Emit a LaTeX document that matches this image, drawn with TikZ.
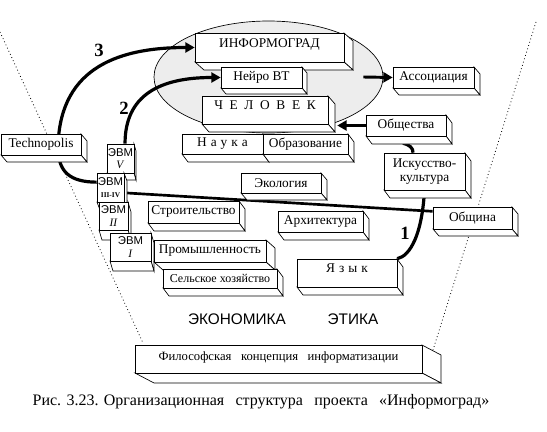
\documentclass[tikz,border=0pt]{standalone}
\usepackage{fontspec}
\setmainfont{Liberation Serif}
\newfontfamily\sansf{Liberation Sans}
\usetikzlibrary{arrows.meta,shapes.geometric}
\pgfdeclarelayer{bg}
\pgfdeclarelayer{mid}
\pgfsetlayers{bg,mid,main}
\tikzset{
  face/.style={fill=white,draw=black,line width=0.5pt,line join=miter},
  front/.style={draw=black,fill=white,line width=0.5pt,inner sep=0pt,align=center,
    font=\fontsize{10}{11}\selectfont},
  evmtxt/.style={font=\fontsize{8.5}{9.5}\selectfont},
  conn/.style={line width=2.4pt},
  arr/.style={line width=2.2pt,-{Triangle[length=7pt,width=7.5pt]}},
  num/.style={font=\fontsize{14}{14}\selectfont\bfseries},
  funnel/.style={line width=0.6pt,dotted},
  zone/.style={ellipse,draw=black,fill=black!7,line width=0.5pt,inner sep=0pt}
}
% #1 options, #2 name, #3 x1, #4 y1, #5 x2, #6 y2, #7 dx, #8 dy, #9 text
\newcommand\tdbox[9][]{%
  \filldraw[face] (#5,#4) -- (#5+#7,#4+#8) -- (#5+#7,#6+#8) -- (#5,#6) -- cycle;
  \filldraw[face] (#3,#6) -- (#5,#6) -- (#5+#7,#6+#8) -- (#3+#7,#6+#8) -- cycle;
  \pgfmathsetmacro\boxw{(#5-#3)*0.75}%
  \pgfmathsetmacro\boxh{(#6-#4)*0.75}%
  \node[front,minimum width=\boxw pt,minimum height=\boxh pt,#1] (#2) at ({(#3+#5)/2},{(#4+#6)/2}) {#9};}
\newcommand\evmword{{\sansf\fontsize{8.5}{9.5}\selectfont ЭВМ}}
\begin{document}
\begin{tikzpicture}[x=0.75pt,y=-0.75pt]
\useasboundingbox (0,0) rectangle (547,432);
\begin{pgfonlayer}{bg}
  \node[zone,minimum width=171.75pt,minimum height=84pt] (ell) at (268.5,77) {};
  \draw[funnel] (0,32) -- (143,343);
  \draw[funnel] (536,22) -- (433,350);
\end{pgfonlayer}

\tdbox[text depth=6pt]{info}{195}{33}{344}{62}{9}{8}{ИНФОРМОГРАД}
\tdbox{neiro}{221}{67}{302}{88}{5}{6}{Нейро ВТ}
\tdbox[text depth=8pt]{chel}{202}{96}{328}{124}{7}{8}{{\spaceskip=5pt Ч Е Л О В Е К}}
\tdbox{nauka}{182}{134}{263}{154}{6}{8}{{\spaceskip=3pt Н а у к а}}
\tdbox{obraz}{263}{134}{348}{154}{6}{8}{Образование}
\tdbox{ass}{393}{67}{474}{88}{6}{7}{Ассоциация}
\tdbox{obsh}{366}{115}{446}{136}{6}{8}{Общества}
\tdbox{isk}{384}{153}{465}{190}{6}{8}{Искусство-\\культура}
\tdbox{tech}{1}{134}{81}{155}{6}{7}{Technopolis}
\tdbox[evmtxt]{evm5}{107}{144}{134}{173}{2}{7}{\evmword\\\textit{V}}
\tdbox[evmtxt]{evm34}{97}{173}{124}{202}{3}{8}{\evmword\\{\fontsize{5.5}{6}\selectfont\bfseries III-IV}}
\tdbox[evmtxt]{evm2}{99}{202}{128}{230}{3}{10}{\evmword\\\textit{II}}
\tdbox[evmtxt]{evm1}{110}{233}{151}{261}{3}{10}{\evmword\\\textit{I}}
\tdbox{eco}{241}{173}{321}{193}{6}{7}{Экология}
\tdbox{stroi}{148}{201}{239}{223}{6}{8}{Строительство}
\tdbox{arch}{278}{211}{363}{232}{6}{8}{Архитектура}
\tdbox{obshina}{433}{207}{512}{229}{6}{7}{Община}
\tdbox{prom}{154}{240}{266}{262}{9}{8}{Промышленность}
\tdbox[font=\fontsize{9}{10}\selectfont]{selsk}{163}{269}{277}{288}{6}{8}{Сельское хозяйство}
\tdbox[text depth=7pt]{yazyk}{297}{259}{397}{287}{6}{8}{{\spaceskip=3pt Я з ы к}}
\tdbox[font=\fontsize{9.5}{10}\selectfont,text depth=4pt]{phil}{135}{345}{422}{373}{19}{10}{Философская\hspace{0.5em} концепция\hspace{0.5em} информатизации}

\node[font=\sansf\fontsize{11.5}{12}\selectfont] (econ) at (237,319) {ЭКОНОМИКА};
\node[font=\sansf\fontsize{11.5}{12}\selectfont] (eth) at (353,319) {ЭТИКА};
\node[font=\fontsize{12}{13}\selectfont] (cap) at (261,402)
  {Рис. 3.23. Организационная\hspace{0.45em} структура\hspace{0.45em} проекта\hspace{0.45em} «Информоград»};

\begin{pgfonlayer}{mid}
  \draw[conn,-{Triangle[length=7pt,width=7.5pt]}] ([yshift=4pt]evm34.west)
     .. controls (70,182) and (59,172) .. (58,150)
     .. controls (58,72) and (112,47.5) .. (info.west);
  \draw[conn,-{Triangle[length=7pt,width=7.5pt]}] ([xshift=3.4pt]evm5.north)
     .. controls (125,95) and (160,77.5) .. (neiro.west);
  \draw[line width=2pt] ([yshift=-4pt]evm34.east) -- ([yshift=5pt]obshina.west);
  \draw[conn] (isk.south) .. controls (422,235) and (410,256) .. (yazyk.north east);
  \draw[conn] ([xshift=-2.3pt,yshift=-5.2pt]obsh.south) .. controls (410,145) and (413,148) .. ([xshift=-8.6pt]isk.north);
  \draw[arr] (obsh.west) -- ([xshift=6.75pt]chel.east |- obsh.west);
  \draw[arr] ([xshift=-15pt]ell.east) -- (ass.west);
\end{pgfonlayer}
\node[num] (n3) at (99,50) {3};
\node[num] (n2) at (124,108) {2};
\node[num] (n1) at (405,233) {1};
\end{tikzpicture}
\end{document}
